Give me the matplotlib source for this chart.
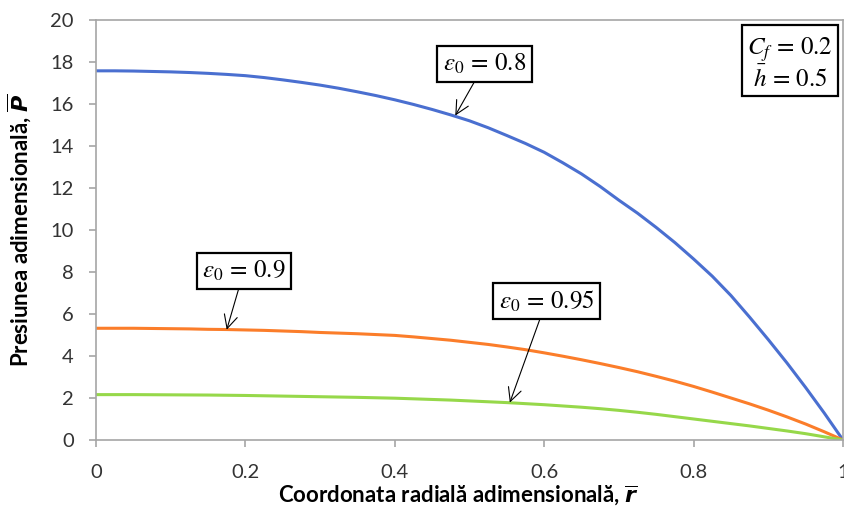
import matplotlib
matplotlib.use('Agg')
import matplotlib.pyplot as plt
import numpy as np

# valori citite de pe grafic, pas 0.025 pe r
r = np.linspace(0, 1, 41)
p_08 = [17.58, 17.58, 17.57, 17.55, 17.53, 17.50, 17.46, 17.41, 17.35, 17.26,
        17.15, 17.03, 16.90, 16.75, 16.58, 16.40, 16.20, 15.98, 15.74, 15.48,
        15.20, 14.87, 14.50, 14.12, 13.70, 13.20, 12.67, 12.07, 11.42, 10.80,
        10.12, 9.40, 8.62, 7.80, 6.88, 5.85, 4.78, 3.67, 2.50, 1.28, 0]
p_09 = [5.32, 5.32, 5.32, 5.31, 5.30, 5.29, 5.27, 5.26, 5.24, 5.22,
        5.19, 5.16, 5.12, 5.09, 5.06, 5.02, 4.98, 4.91, 4.83, 4.75,
        4.65, 4.55, 4.43, 4.30, 4.15, 3.99, 3.82, 3.64, 3.45, 3.25,
        3.03, 2.80, 2.55, 2.28, 2.00, 1.72, 1.42, 1.10, 0.76, 0.39, 0]
p_095 = [2.16, 2.16, 2.16, 2.155, 2.15, 2.145, 2.14, 2.13, 2.12, 2.105,
         2.09, 2.075, 2.06, 2.045, 2.03, 2.01, 1.99, 1.96, 1.93, 1.90,
         1.86, 1.82, 1.78, 1.73, 1.68, 1.62, 1.56, 1.49, 1.41, 1.32,
         1.22, 1.11, 1.00, 0.89, 0.78, 0.67, 0.55, 0.43, 0.30, 0.15, 0]

xticks = [0, 0.2, 0.4, 0.6, 0.8, 1]
xticklabels = ['0', '0.2', '0.4', '0.6', '0.8', '1']
yticks = list(range(0, 21, 2))

plt.rcParams['font.family'] = ['Lato', 'DejaVu Sans']

fig = plt.figure(figsize=(8.45, 5.08), dpi=100)
ax = fig.add_axes([0.1136, 0.1339, 0.8840, 0.8267])

ax.plot(r, p_08, color='#4a6fd0', lw=2.2)
ax.plot(r, p_09, color='#fb7d2a', lw=2.2)
ax.plot(r, p_095, color='#96d84a', lw=2.2)

ax.set_xlim(0, 1)
ax.set_ylim(0, 20)
ax.set_xticks(xticks)
ax.set_xticklabels(xticklabels)
ax.set_yticks(yticks)
ax.tick_params(labelsize=14.5, color='#a6a6a6', length=5, width=1.2, labelcolor='#333333')
ax.tick_params(axis='x', pad=12)
ax.tick_params(axis='y', pad=11)
for s in ax.spines.values():
    s.set_color('#a6a6a6')
    s.set_linewidth(1.2)

ax.set_xlabel(r'Coordonata radială adimensională, $\overline{\mathbfit{r}}$',
              fontsize=16, fontweight='bold', math_fontfamily='dejavusans')
ax.set_ylabel(r'Presiunea adimensională, $\overline{\mathbfit{P}}$',
              fontsize=16, fontweight='bold', math_fontfamily='dejavusans')
ax.xaxis.set_label_coords(0.485, -0.105)
ax.yaxis.set_label_coords(-0.083, 0.5)

box = dict(boxstyle='square,pad=0.22', fc='white', ec='black', lw=1.6)
arrow = dict(arrowstyle='->', color='black', lw=0.8, mutation_scale=24, shrinkA=0, shrinkB=0)

ax.annotate(r'$\varepsilon_0\,=\,0.8$', xy=(0.481, 15.45), xytext=(0.52, 17.9),
            ha='center', va='center', fontsize=18, math_fontfamily='stix',
            bbox=box, arrowprops=arrow)
ax.annotate(r'$\varepsilon_0\,=\,0.9$', xy=(0.175, 5.25), xytext=(0.198, 8.05),
            ha='center', va='center', fontsize=18, math_fontfamily='stix',
            bbox=box, arrowprops=arrow)
ax.annotate(r'$\varepsilon_0\,=\,0.95$', xy=(0.554, 1.78), xytext=(0.603, 6.62),
            ha='center', va='center', fontsize=18, math_fontfamily='stix',
            bbox=box, arrowprops=arrow)
ax.text(0.929, 17.95, '$C_f\\,=\\,0.2$\n$\\bar{h}\\,=\\,0.5$', ha='center', va='center',
        fontsize=18, math_fontfamily='stix', linespacing=1.0, bbox=box)

fig.savefig('out.png', dpi=100)
